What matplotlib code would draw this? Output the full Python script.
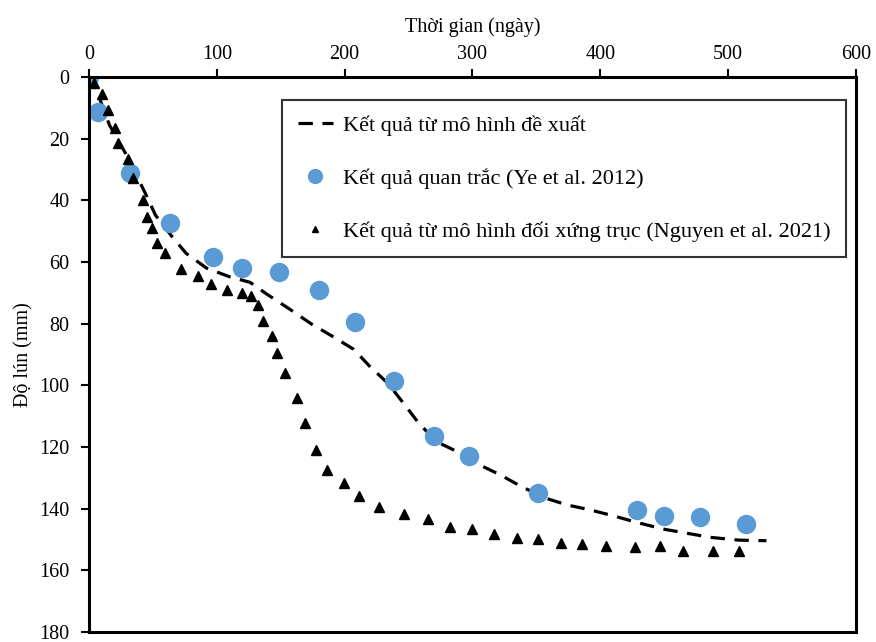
import matplotlib
matplotlib.use('Agg')
import matplotlib.pyplot as plt

plt.rcParams['font.family'] = ['Liberation Serif', 'DejaVu Serif']

# proposed model (dashed line)
model_x = [0, 3, 16, 30, 44, 52, 65, 76, 92, 110, 126, 139, 157, 174, 190, 207, 220,
           234, 246, 258, 272, 288, 303, 322, 339, 358, 374, 392, 410, 428, 449, 468,
           486, 508, 530]
model_y = [0, 1, 15.6, 25.8, 37.7, 44.8, 51.8, 57.2, 62, 64.8, 66.6, 70.4, 75.3, 80.1,
           84, 88.3, 94, 99.4, 105.8, 112.3, 118.3, 121.5, 125.3, 129.1, 133, 136.7,
           138.8, 140.4, 142.3, 144.4, 146.6, 148, 149.3, 150.2, 150.4]

# field observations (Ye et al. 2012)
obs_x = [0, 7, 32, 63, 97, 120, 149, 180, 208, 239, 270, 297, 351, 429, 450, 478, 514]
obs_y = [0, 11.4, 31.1, 47.4, 58.4, 62, 63.2, 69, 79.5, 98.6, 116.4, 123, 135, 140.4,
         142.4, 142.7, 145]

# axisymmetric model (Nguyen et al. 2021)
axi_x = [4, 10, 14.6, 20.3, 23, 30.3, 34.7, 42, 45.6, 49.3, 53, 59.5, 72.3, 85.6, 95.7,
         107.7, 120, 126.8, 132.5, 135.9, 143.2, 146.8, 153.4, 162.5, 169, 177.9, 186,
         199.8, 211.3, 227, 246.5, 265, 282.2, 299.4, 317, 335, 351.6, 369, 386, 404.5,
         427.5, 446.8, 465, 488.5, 508.8]
axi_y = [2, 5.6, 10.7, 16.4, 21.5, 26.5, 32.9, 40, 45.3, 49.1, 54, 57.2, 62.3, 64.6, 67.2,
         69.2, 69.9, 71, 74.1, 79.1, 84, 89.4, 96.1, 104, 112.1, 121, 127.5, 131.8, 135.9,
         139.4, 141.8, 143.4, 146, 146.7, 148.3, 149.4, 150, 151, 151.6, 152.1, 152.5,
         152.1, 153.6, 153.6, 153.6]

fig = plt.figure(figsize=(8.76, 6.42), dpi=100)
ax = fig.add_axes([0.1016, 0.0156, 0.8755, 0.8645])

ax.plot(model_x, model_y, color='black', lw=2.3, ls=(0, (4.5, 3)),
        label='Kết quả từ mô hình đề xuất')
ax.plot(obs_x, obs_y, ls='none', marker='o', ms=14, color='#5B9BD5', mec='none',
        label='Kết quả quan trắc (Ye et al. 2012)')
ax.plot(axi_x, axi_y, ls='none', marker='^', ms=6.5, color='black',
        label='Kết quả từ mô hình đối xứng trục (Nguyen et al. 2021)')

ax.set_xlim(0, 600)
ax.set_ylim(180, 0)
ax.set_xticks(range(0, 601, 100))
ax.set_yticks(range(0, 181, 20))
ax.xaxis.tick_top()
ax.xaxis.set_label_position('top')
ax.tick_params(axis='both', labelsize=14.5, direction='out', length=6, width=1.5)
ax.tick_params(axis='x', pad=3)
ax.tick_params(axis='y', pad=8)
ax.set_xlabel('Thời gian (ngày)', fontsize=14.5, labelpad=10)
ax.set_ylabel('Độ lún (mm)', fontsize=14.5, labelpad=4)
for s in ax.spines.values():
    s.set_linewidth(2.2)

leg = ax.legend(loc='upper left', bbox_to_anchor=(0.2516, 0.9586), fontsize=16,
                frameon=True, fancybox=False, edgecolor='black', labelspacing=1.45,
                handlelength=1.6, handletextpad=0.45, borderpad=0.7, borderaxespad=0)
leg.get_frame().set_linewidth(1.5)
leg.legend_handles[1].set_markersize(11)
leg.legend_handles[2].set_markersize(5)

fig.savefig('out.png', dpi=100)
